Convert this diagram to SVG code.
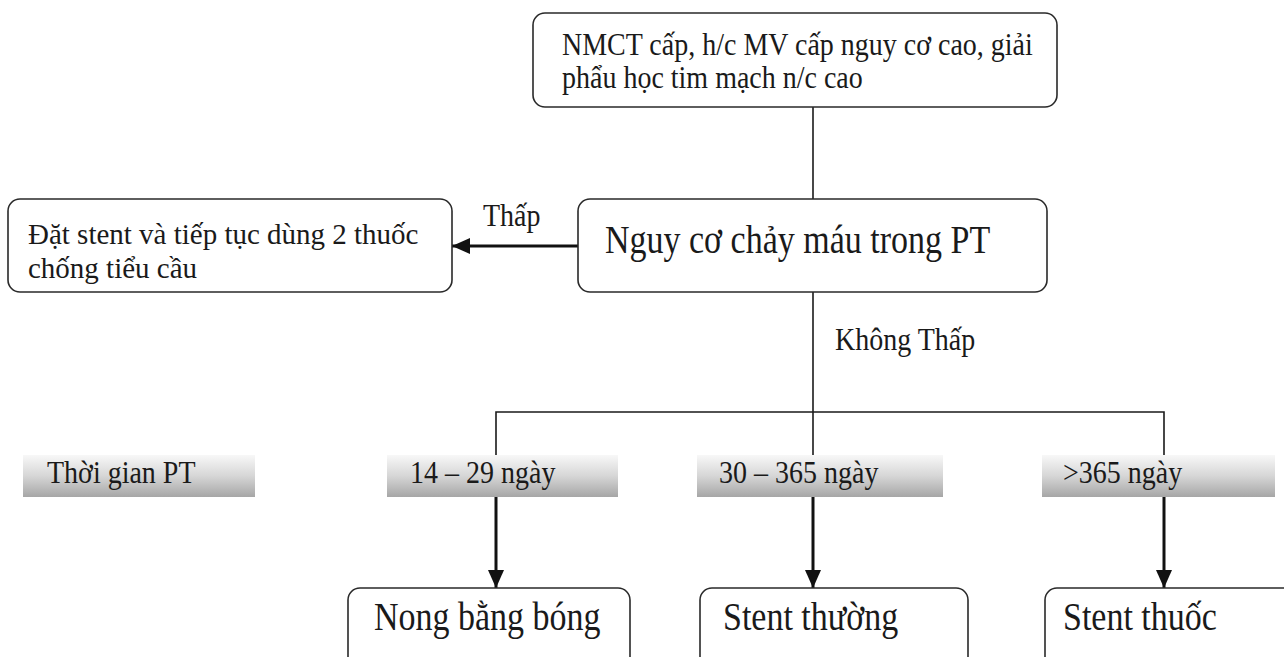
<svg xmlns="http://www.w3.org/2000/svg" width="1284" height="657" viewBox="0 0 1284 657">
  <style>
    .box { fill: #ffffff; stroke: #2a2a2a; stroke-width: 1.6; }
    .band { fill: url(#bandFill); }
    .t { font-family: "Liberation Serif", "Times New Roman", serif; fill: #1a1a1a; }
    .s28 { font-size: 28px; }
    .s29 { font-size: 29px; }
    .s34 { font-size: 34px; }
    .thin { stroke: #1a1a1a; stroke-width: 1.6; fill: none; }
    .thick { stroke: #111111; stroke-width: 3; fill: none; }
  </style>
  <defs>
    <linearGradient id="bandFill" x1="0" y1="0" x2="0" y2="1">
      <stop offset="0" stop-color="#f8f8f8"/>
      <stop offset="0.5" stop-color="#d6d6d6"/>
      <stop offset="1" stop-color="#a6a6a6"/>
    </linearGradient>
    <marker id="head" viewBox="0 0 18 16" refX="18" refY="8" markerWidth="18" markerHeight="16" markerUnits="userSpaceOnUse" orient="auto">
      <path d="M0,0 L18,8 L0,16 z" fill="#111111"/>
    </marker>
  </defs>
  <rect width="1284" height="657" fill="#ffffff"/>

  <!-- connectors -->
  <g id="connectors">
    <line class="thin" x1="813" y1="107" x2="813" y2="199"/>
    <line class="thick" x1="578" y1="246" x2="452" y2="246" marker-end="url(#head)"/>
    <line class="thin" x1="813" y1="292" x2="813" y2="412"/>
    <polyline class="thin" points="496,455 496,412 1164,412 1164,455"/>
    <line class="thin" x1="813" y1="412" x2="813" y2="455"/>
    <line class="thick" x1="496" y1="497" x2="496" y2="588" marker-end="url(#head)"/>
    <line class="thick" x1="813" y1="497" x2="813" y2="588" marker-end="url(#head)"/>
    <line class="thick" x1="1164" y1="497" x2="1164" y2="588" marker-end="url(#head)"/>
    <text class="t s28" transform="translate(483,226) scale(1,1.12)">Thấp</text>
    <text class="t s28" transform="translate(835,350) scale(1,1.12)">Không Thấp</text>
  </g>

  <!-- nodes -->
  <g id="n-indication">
    <rect class="box" x="533" y="13" width="524" height="94" rx="12"/>
    <text class="t s28" transform="translate(562,55) scale(1,1.1)">NMCT cấp, h/c MV cấp nguy cơ cao, giải</text>
    <text class="t s28" transform="translate(562,88) scale(1,1.1)">phẩu học tim mạch n/c cao</text>
  </g>
  <g id="n-bleeding">
    <rect class="box" x="578" y="199" width="469" height="93" rx="12"/>
    <text class="t s34" transform="translate(605,253) scale(1,1.15)">Nguy cơ chảy máu trong PT</text>
  </g>
  <g id="n-low">
    <rect class="box" x="8" y="199" width="444" height="93" rx="12"/>
    <text class="t s29" transform="translate(28,244) scale(1,1.05)">Đặt stent và tiếp tục dùng 2 thuốc</text>
    <text class="t s29" transform="translate(28,278) scale(1,1.05)">chống tiểu cầu</text>
  </g>

  <g id="n-time-label">
    <rect class="band" x="23" y="455" width="232" height="42"/>
    <text class="t s28" transform="translate(47,483) scale(1,1.12)">Thời gian PT</text>
  </g>
  <g id="n-time-1">
    <rect class="band" x="387" y="455" width="231" height="42"/>
    <text class="t s28" transform="translate(410,483) scale(1,1.12)">14 – 29 ngày</text>
  </g>
  <g id="n-time-2">
    <rect class="band" x="697" y="455" width="246" height="42"/>
    <text class="t s28" transform="translate(719,483) scale(1,1.12)">30 – 365 ngày</text>
  </g>
  <g id="n-time-3">
    <rect class="band" x="1042" y="455" width="233" height="42"/>
    <text class="t s28" transform="translate(1063,483) scale(1,1.12)">&gt;365 ngày</text>
  </g>

  <g id="n-balloon">
    <rect class="box" x="348" y="588" width="282" height="100" rx="12"/>
    <text class="t s34" transform="translate(374,630) scale(1,1.15)">Nong bằng bóng</text>
  </g>
  <g id="n-bms">
    <rect class="box" x="700" y="588" width="268" height="100" rx="12"/>
    <text class="t s34" transform="translate(723,630) scale(1,1.15)">Stent thường</text>
  </g>
  <g id="n-des">
    <rect class="box" x="1045" y="588" width="250" height="100" rx="12"/>
    <text class="t s34" transform="translate(1063,630) scale(1,1.15)">Stent thuốc</text>
  </g>
</svg>
